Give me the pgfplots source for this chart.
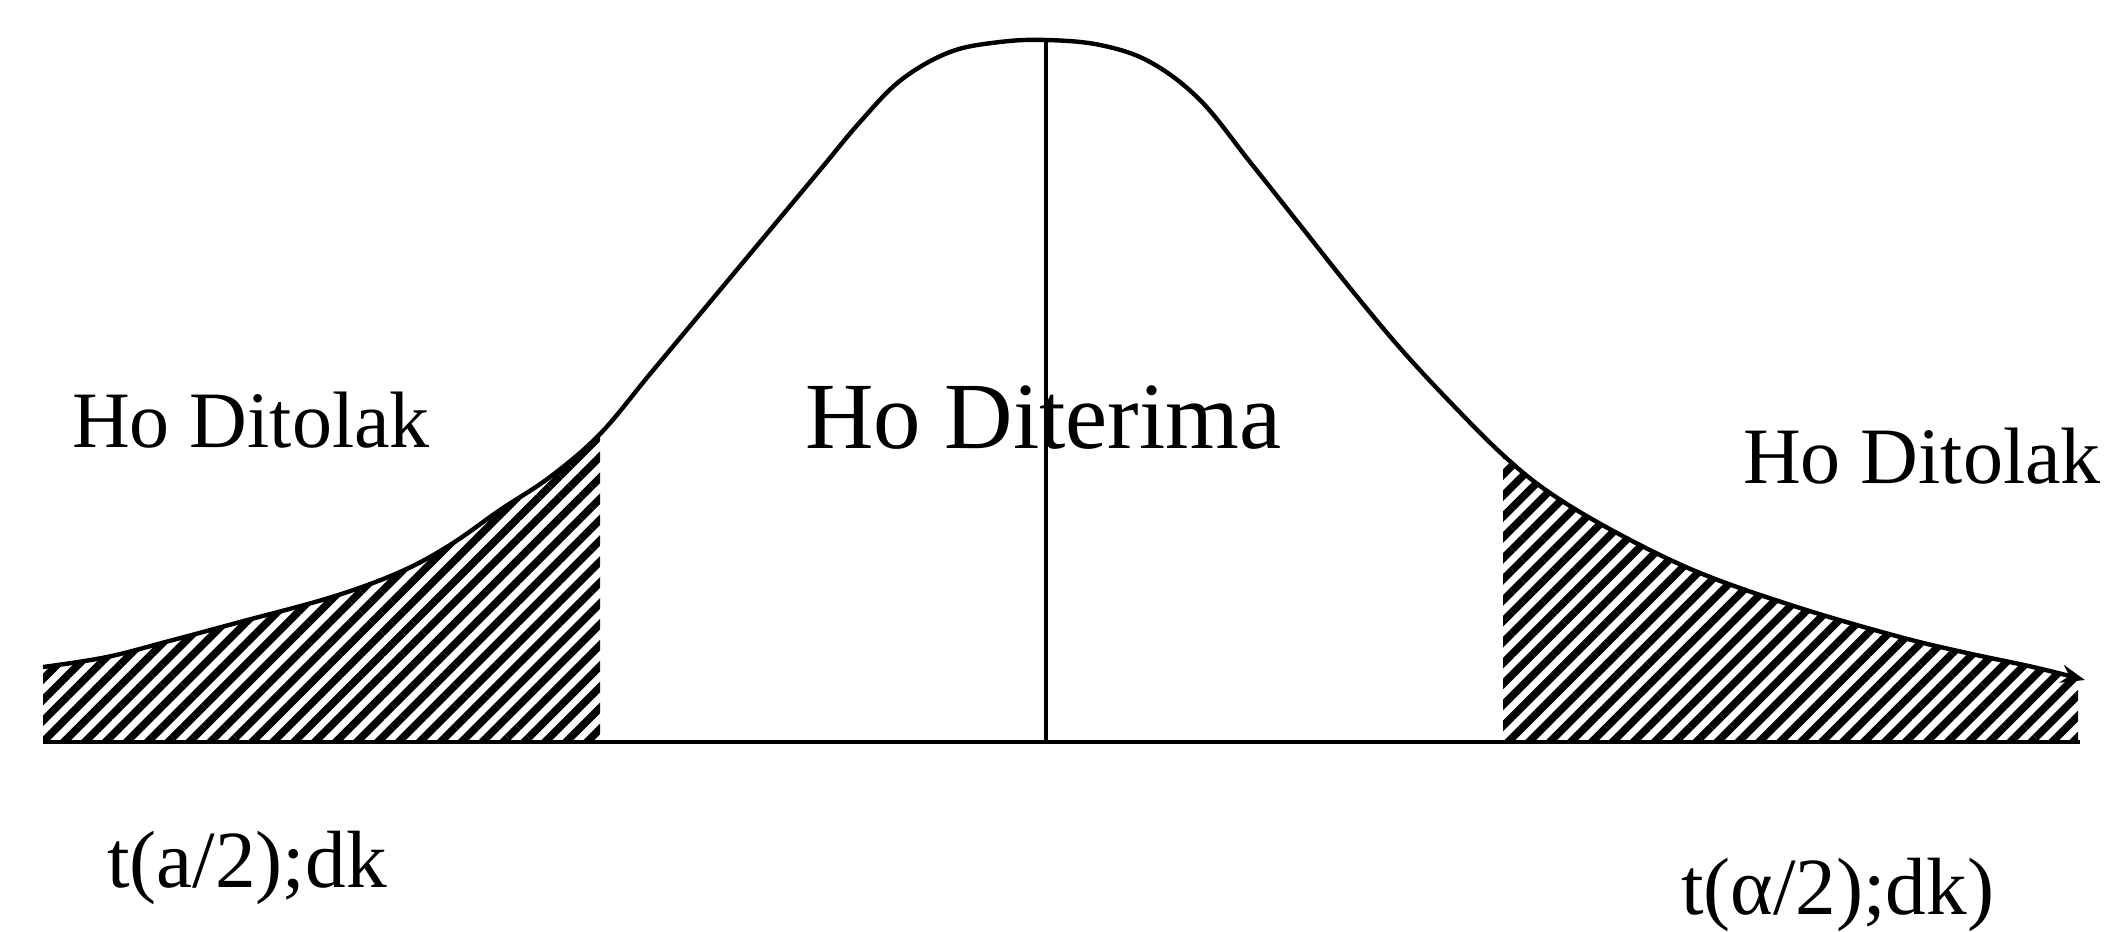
\documentclass[border=0pt]{standalone}
\usepackage{pgfplots}
\pgfplotsset{compat=1.18}
\usepackage{pgfplotstable}
\usetikzlibrary{patterns.meta,arrows.meta}
\usepackage{fontspec}
\setmainfont{Liberation Serif}

\pgfplotstableread{
x y
43 667
107 657
173 640
240 622
332 597
400 572
450 545
500 510
550 477
600 434
650 374
700 314
760 242
820 170
860 122
901 80
950 52
1000 42
1046 40
1100 45
1150 62
1200 100
1250 162
1300 225
1350 288
1400 348
1450 402
1503 455
1550 493
1617 533
1700 573
1800 608
1900 637
1967 653
2033 667
2085 680
}\curvedata

\pgfplotstableread{
x y
43 667
107 657
173 640
240 622
332 597
400 572
450 545
500 510
550 477
600 434
}\lefttail

\pgfplotstableread{
x y
1503 455
1550 493
1617 533
1700 573
1800 608
1900 637
1967 653
2033 667
2078 678
}\righttail

\begin{document}
\begin{tikzpicture}
\begin{axis}[
  scale only axis, width=526.25pt, height=232.25pt,
  xmin=0, xmax=2105, ymin=0, ymax=929, y dir=reverse,
  hide axis, clip=false]
\addplot[pattern={Lines[angle=45,distance=3.7pt,line width=1.9pt]}, draw=none, smooth, tension=0.6]
  table {\lefttail} -- (axis cs:600,742) -- (axis cs:43,742) -- cycle;
\addplot[pattern={Lines[angle=45,distance=3.7pt,line width=1.9pt]}, draw=none, smooth, tension=0.6]
  table {\righttail} -- (axis cs:2078,742) -- (axis cs:1503,742) -- cycle;
\addplot[black, line width=1.1pt, smooth, tension=0.6, -{Stealth[length=6pt,width=4.5pt]}] table {\curvedata};
\addplot[black, line width=0.8pt] coordinates {(43,742) (2080,742)};
\addplot[black, line width=0.8pt] coordinates {(1046,40) (1046,742)};
\node[anchor=base west, inner sep=0pt, outer sep=0pt, font=\fontsize{20}{24}\selectfont] at (axis cs:72,447) {Ho Ditolak};
\node[anchor=base west, inner sep=0pt, outer sep=0pt, font=\fontsize{23.7}{28}\selectfont] at (axis cs:805,448) {Ho Diterima};
\node[anchor=base west, inner sep=0pt, outer sep=0pt, font=\fontsize{20}{24}\selectfont] at (axis cs:1743,484) {Ho Ditolak};
\node[anchor=base west, inner sep=0pt, outer sep=0pt, font=\fontsize{20.3}{24}\selectfont] at (axis cs:107,887) {t(a/2);dk};
\node[anchor=base west, inner sep=0pt, outer sep=0pt, font=\fontsize{20.3}{24}\selectfont] at (axis cs:1681,914) {t(α/2);dk)};
\path (axis cs:0,0) rectangle (axis cs:2105,929);
\end{axis}
\end{tikzpicture}
\end{document}
